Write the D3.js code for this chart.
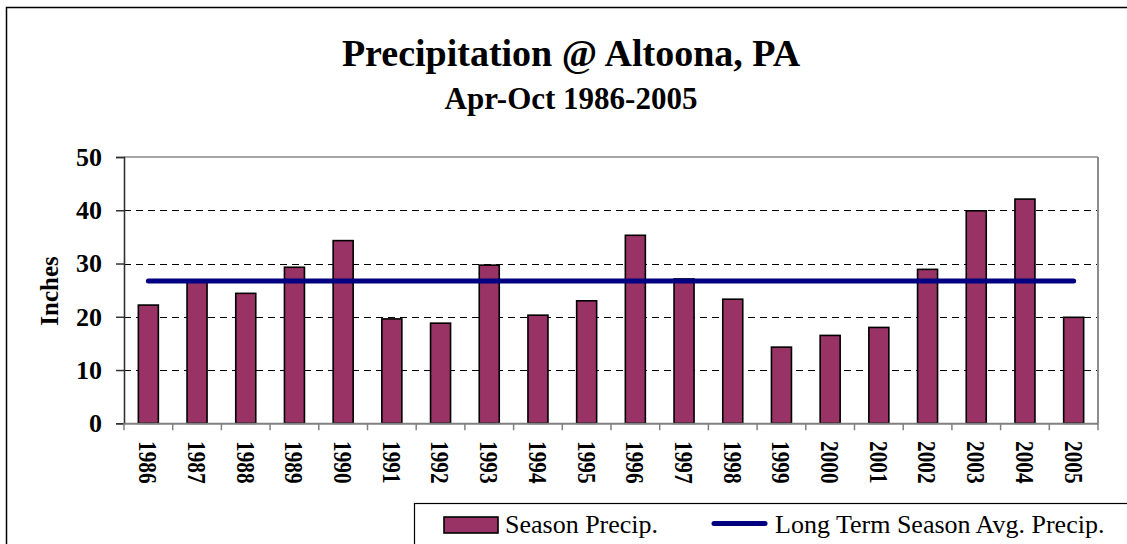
<!DOCTYPE html>
<html>
<head>
<meta charset="utf-8">
<script src="https://cdn.jsdelivr.net/npm/d3@7"></script>
<style>
  html, body { margin: 0; padding: 0; background: #fff; }
  svg { display: block; }
  text { font-family: "Liberation Serif", "Times New Roman", serif; }
</style>
</head>
<body>
<svg id="chart" width="1127" height="544"></svg>
<script>
const years = ["1986","1987","1988","1989","1990","1991","1992","1993","1994","1995",
               "1996","1997","1998","1999","2000","2001","2002","2003","2004","2005"];
const seasonPrecip = [22.2, 26.6, 24.4, 29.3, 34.3, 19.6, 18.8, 29.7, 20.3, 23.0,
                      35.3, 27.1, 23.3, 14.3, 16.5, 18.0, 28.9, 39.9, 42.1, 19.9];
const longTermAvg = [26.7, 26.7, 26.7, 26.7, 26.7, 26.7, 26.7, 26.7, 26.7, 26.7,
                     26.7, 26.7, 26.7, 26.7, 26.7, 26.7, 26.7, 26.7, 26.7, 26.7];
const yTicks = [0, 10, 20, 30, 40, 50];
const titleText = "Precipitation @ Altoona, PA";
const subtitleText = "Apr-Oct 1986-2005";
const yAxisLabel = "Inches";
const legendLabels = ["Season Precip.", "Long Term Season Avg. Precip."];

const svg = d3.select("#chart");
const plot = { left: 124, right: 1098, top: 157, bottom: 423.3 };

// outer chart border (extends beyond the visible window)
svg.append("rect").attr("x", 6.5).attr("y", 7.5).attr("width", 1140).attr("height", 560)
  .attr("fill", "#fff").attr("stroke", "#000").attr("stroke-width", 1.5);

const x = d3.scaleBand().domain(years).range([plot.left, plot.right]).paddingInner(0).paddingOuter(0);
const y = d3.scaleLinear().domain([0, 50]).range([plot.bottom, plot.top]);

// titles
svg.append("text").attr("x", 571).attr("y", 66).attr("text-anchor", "middle")
  .attr("font-size", 38).attr("font-weight", "bold").text(titleText);
svg.append("text").attr("x", 571).attr("y", 109).attr("text-anchor", "middle")
  .attr("font-size", 31).attr("font-weight", "bold").text(subtitleText);

// gridlines (dashed) at interior ticks
svg.append("g").selectAll("line").data(yTicks.filter(d => d > 0 && d < 50)).join("line")
  .attr("x1", plot.left).attr("x2", plot.right)
  .attr("y1", d => Math.round(y(d)) + 0.5).attr("y2", d => Math.round(y(d)) + 0.5)
  .attr("stroke", "#000").attr("stroke-width", 1).attr("stroke-dasharray", "7,5");

// plot border top and right (gray)
svg.append("line").attr("x1", plot.left).attr("x2", plot.right).attr("y1", plot.top).attr("y2", plot.top)
  .attr("stroke", "#a6a6a6").attr("stroke-width", 2);
svg.append("line").attr("x1", plot.right).attr("x2", plot.right).attr("y1", plot.top).attr("y2", plot.bottom)
  .attr("stroke", "#8c8c8c").attr("stroke-width", 2);

// bars
const barW = 20;
svg.append("g").selectAll("rect").data(seasonPrecip).join("rect")
  .attr("x", (d, i) => x(years[i]) + x.bandwidth() / 2 - barW / 2)
  .attr("y", d => y(d))
  .attr("width", barW)
  .attr("height", d => y(0) - y(d))
  .attr("fill", "#993366").attr("stroke", "#000").attr("stroke-width", 1.6);

// y axis
const yAxis = d3.axisLeft(y).tickValues(yTicks).tickSize(8).tickPadding(14);
const gy = svg.append("g").attr("transform", `translate(${plot.left},0)`).call(yAxis);
gy.select(".domain").attr("stroke", "#333").attr("stroke-width", 1.6);
gy.selectAll(".tick line").attr("stroke", "#333").attr("stroke-width", 1.5);
gy.selectAll(".tick text").attr("font-family", "Liberation Serif").attr("font-size", 26)
  .attr("font-weight", "bold").attr("fill", "#000");

// x axis
const xAxis = d3.axisBottom(x).tickSize(0).tickFormat("");
const gx = svg.append("g").attr("transform", `translate(0,${plot.bottom})`).call(xAxis);
gx.select(".domain").attr("stroke", "#808080").attr("stroke-width", 2);
// boundary ticks
const bounds = years.map(d => x(d)).concat([plot.right]);
gx.append("g").selectAll("line").data(bounds).join("line")
  .attr("x1", d => d).attr("x2", d => d).attr("y1", 0).attr("y2", 7)
  .attr("stroke", "#808080").attr("stroke-width", 1.5);
// rotated labels
svg.append("g").selectAll("text").data(years).join("text")
  .attr("transform", d => `translate(${x(d) + x.bandwidth() / 2},441) rotate(90) scale(0.82,1)`)
  .attr("dy", "0.35em").attr("text-anchor", "start")
  .attr("font-size", 26).attr("font-weight", "bold").text(d => d);

// y axis title
svg.append("text").attr("transform", "translate(49,291) rotate(-90)")
  .attr("text-anchor", "middle").attr("dy", "0.35em")
  .attr("font-size", 25).attr("font-weight", "bold").text(yAxisLabel);

// long-term average line
const line = d3.line().x((d, i) => x(years[i]) + x.bandwidth() / 2).y(d => y(d));
svg.append("path").datum(longTermAvg).attr("d", line)
  .attr("fill", "none").attr("stroke", "#000080").attr("stroke-width", 5).attr("stroke-linecap", "round");

// legend
const lg = svg.append("g");
lg.append("rect").attr("x", 414.5).attr("y", 503.5).attr("width", 740).attr("height", 60)
  .attr("fill", "#fff").attr("stroke", "#000").attr("stroke-width", 1.2);
lg.append("rect").attr("x", 444).attr("y", 517).attr("width", 54).attr("height", 16)
  .attr("fill", "#993366").attr("stroke", "#000").attr("stroke-width", 1.6);
lg.append("text").attr("x", 505).attr("y", 533).attr("font-size", 26).text(legendLabels[0]);
lg.append("line").attr("x1", 714).attr("x2", 765).attr("y1", 523.5).attr("y2", 523.5)
  .attr("stroke", "#000080").attr("stroke-width", 5).attr("stroke-linecap", "round");
lg.append("text").attr("x", 775).attr("y", 533).attr("font-size", 26).text(legendLabels[1]);
</script>
</body>
</html>
